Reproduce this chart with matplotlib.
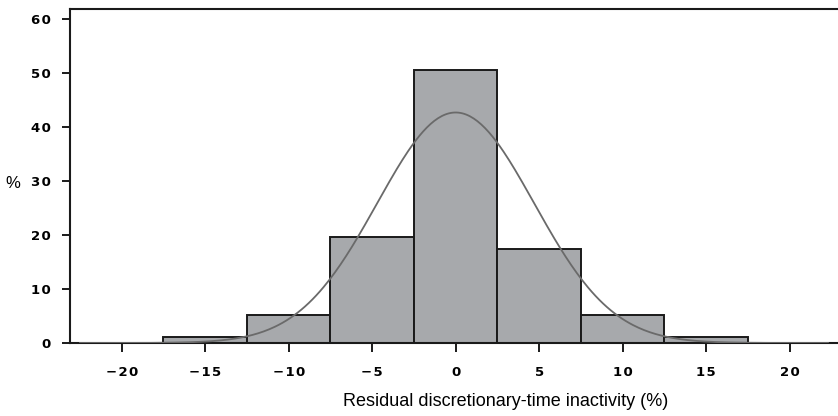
import numpy as np
import matplotlib
matplotlib.use("Agg")
from matplotlib import pyplot as plt

# histogram bins (centres, width) and percentages
bin_centres = [-15, -10, -5, 0, 5, 10, 15]
bin_width = 5
percent = [1.2, 5.2, 19.7, 50.7, 17.5, 5.2, 1.2]

# fitted normal curve
fit_mean = 0.0
fit_sd = 4.70

x_ticks = [-20, -15, -10, -5, 0, 5, 10, 15, 20]
y_ticks = [0, 10, 20, 30, 40, 50, 60]


def spaced(v):
    # the original puts air between the digits
    s = str(v).replace("-", "\u2212")
    return "\u200a".join(s)


fig = plt.figure(figsize=(8.38, 4.16), dpi=100)
ax = fig.add_axes([0.0835, 0.1755, 0.9165, 0.8025])

ax.bar(bin_centres, percent, width=bin_width, color="#a7a9ac",
       edgecolor="#1a1a1a", linewidth=1.4, zorder=2)

xs = np.linspace(-22.5, 22.3, 400)
area = sum(percent) * bin_width
ys = area / (fit_sd * np.sqrt(2 * np.pi)) * np.exp(-0.5 * ((xs - fit_mean) / fit_sd) ** 2)
ax.plot(xs, ys, color="#6a6a6a", linewidth=1.3, zorder=3)

ax.set_xlim(-23.1, 22.9)
ax.set_ylim(0, 61.9)

ax.spines["right"].set_visible(False)
for side in ["left", "top", "bottom"]:
    ax.spines[side].set_linewidth(1.5)
    ax.spines[side].set_color("#1a1a1a")

ax.set_xticks(x_ticks)
ax.set_xticklabels([spaced(v) for v in x_ticks])
ax.set_yticks(y_ticks)
ax.set_yticklabels([spaced(v) for v in y_ticks])
ax.tick_params(axis="x", direction="out", length=6.5, width=1.4, pad=10,
               color="#1a1a1a")
ax.tick_params(axis="y", direction="out", length=5.8, width=1.4, pad=8,
               color="#1a1a1a")
for lab in ax.get_xticklabels() + ax.get_yticklabels():
    lab.set_fontfamily("DejaVu Sans")
    lab.set_fontweight("bold")
    lab.set_fontsize(9.5)

fig.text(0.006, 1 - 183 / 416, "%", fontsize=12, family="Liberation Sans",
         ha="left", va="center")
fig.text(506 / 838, 1 - 401 / 416, "Residual discretionary-time inactivity (%)",
         fontsize=13, family="Liberation Sans", ha="center", va="center")

fig.savefig("out.png", dpi=100)
